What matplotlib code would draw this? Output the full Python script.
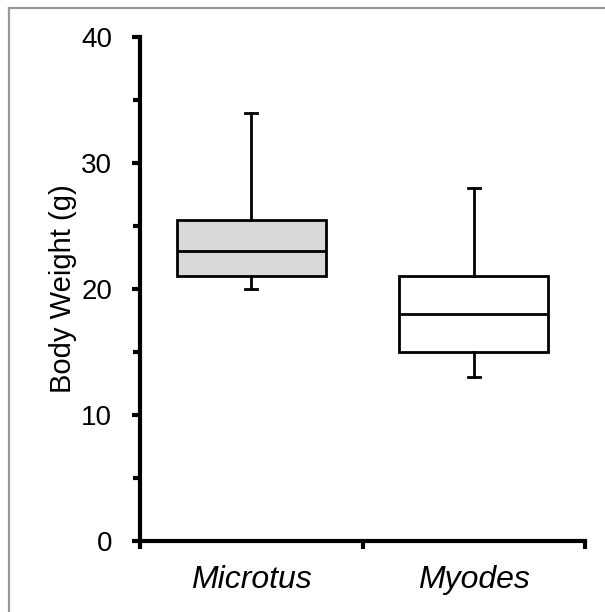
import matplotlib
matplotlib.use("Agg")
import matplotlib.pyplot as plt
from matplotlib.lines import Line2D

plt.rcParams['font.family'] = ['Liberation Sans', 'DejaVu Sans']

# Summary statistics per species (g)
species = ["Microtus", "Myodes"]
whisker_low = [20, 13]
q1 = [21, 15]
median = [23, 18]
q3 = [25.5, 21]
whisker_high = [34, 28]
fills = ["#d9d9d9", "#ffffff"]

y_ticks = [0, 10, 20, 30, 40]

W, H = 605, 612
fig = plt.figure(figsize=(W / 100, H / 100), dpi=100)
ax = fig.add_axes([140 / W, 1 - 541 / H, (585 - 140) / W, (541 - 37) / H])

stats = []
for i, name in enumerate(species):
    stats.append(dict(label=name, med=median[i], q1=q1[i], q3=q3[i],
                      whislo=whisker_low[i], whishi=whisker_high[i], fliers=[]))

positions = [1, 2]
lw = 2.0
bp = ax.bxp(stats, positions=positions, widths=0.67, patch_artist=True,
            showfliers=False,
            boxprops=dict(linewidth=lw, edgecolor="black"),
            medianprops=dict(color="black", linewidth=lw),
            whiskerprops=dict(color="black", linewidth=lw),
            capprops=dict(color="black", linewidth=lw),
            capwidths=0.055)
for patch, c in zip(bp["boxes"], fills):
    patch.set_facecolor(c)

ax.set_xlim(0.5, 2.5)
ax.set_ylim(0, 40)
ax.set_yticks(y_ticks)
ax.set_yticks([5, 15, 25, 35], minor=True)
ax.set_yticklabels([str(v) for v in y_ticks], fontsize=20)

# Category ticks sit between groups; labels are drawn at the group centres
ax.set_xticks([0.5, 1.5, 2.5])
ax.set_xticklabels([])
for p, name in zip(positions, species):
    ax.text(p, -1.9, name, ha="center", va="top", fontsize=23,
            style="italic", transform=ax.transData)

ax.set_ylabel("Body Weight (g)", fontsize=21, labelpad=3)

for side in ("top", "right"):
    ax.spines[side].set_visible(False)
for side in ("left", "bottom"):
    ax.spines[side].set_linewidth(3)
ax.tick_params(axis="both", which="major", direction="out", length=6, width=3)
ax.tick_params(axis="y", which="minor", direction="out", length=5, width=3)
ax.tick_params(axis="y", which="major", pad=14)

# Thin grey frame along the top and left of the figure
fig.add_artist(Line2D([8.5 / W, 8.5 / W], [0, 1 - 7.5 / H],
                      transform=fig.transFigure, color="#999999", linewidth=1.6))
fig.add_artist(Line2D([8.5 / W, 1], [1 - 7.5 / H, 1 - 7.5 / H],
                      transform=fig.transFigure, color="#999999", linewidth=1.6))

fig.savefig("out.png", dpi=100)
